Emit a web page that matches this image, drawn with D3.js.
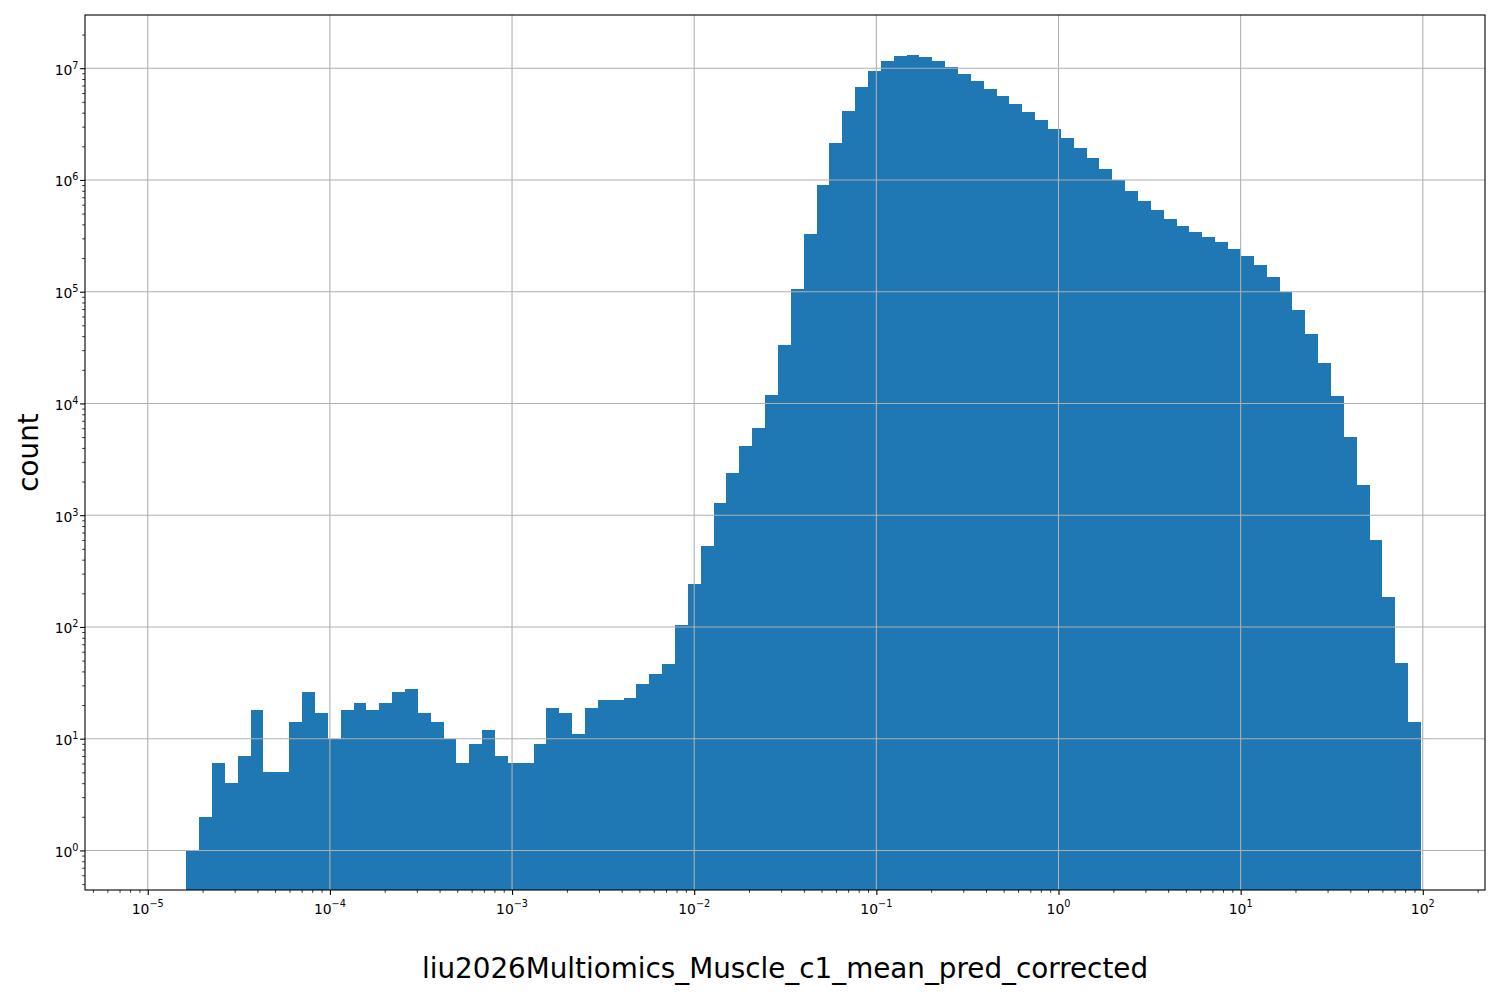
<!DOCTYPE html>
<html><head><meta charset="utf-8">
<script src="https://cdn.jsdelivr.net/npm/d3@7"></script>
<style>body{margin:0;background:#fff} svg{display:block}</style>
</head><body>
<svg id="chart" width="1500" height="1000"></svg>
<script>
// ---- data ----
const binLogStart = -5.0;   // log10 of first bin edge
const binLogEnd = 1.99;     // log10 of last bin edge
const binCount = 99;
const counts = [0, 0, 0,
  1, 2, 6, 4, 7, 18, 5, 5, 14, 26, 17, 10, 18, 21, 18, 21, 26, 28, 17, 14, 10, 6,
  9, 12, 7, 6, 6, 9, 19, 17, 11, 19, 22, 22, 23, 31, 38, 47, 104, 240, 530, 1290,
  2400, 4200, 6000, 12000, 33000, 105000, 330000, 900000, 2150000, 4150000, 6800000,
  9460000, 11600000, 12900000, 13150000, 12600000, 11600000, 10270000, 8900000,
  7700000, 6530000, 5650000, 4800000, 4060000, 3450000, 2860000, 2380000, 1940000,
  1580000, 1256000, 990000, 800000, 650000, 540000, 449000, 388000, 343000, 310000,
  279000, 242000, 209000, 174000, 136000, 99000, 68800, 42000, 23100, 11700, 5030,
  1870, 600, 186, 48, 14];
const xTickExps = [-5, -4, -3, -2, -1, 0, 1, 2];
const yTickExps = [0, 1, 2, 3, 4, 5, 6, 7];
const xLabel = "liu2026Multiomics_Muscle_c1_mean_pred_corrected";
const yLabel = "count";

// ---- layout ----
const W = 1500, H = 1000;
const m = {left: 85, right: 1485, top: 15, bottom: 890};
const FONT = "DejaVu Sans, sans-serif";
const barColor = "#1f77b4";

const svg = d3.select("#chart");

const edges = d3.range(binCount + 1).map(i => Math.pow(10, binLogStart + i * (binLogEnd - binLogStart) / binCount));
const bins = counts.map((c, i) => ({x0: edges[i], x1: edges[i + 1], c}));

const x = d3.scaleLog().domain([Math.pow(10, -5.3445), Math.pow(10, 2.3415)]).range([m.left, m.right]);
const y = d3.scaleLog().domain([Math.pow(10, -0.354), Math.pow(10, 7.476)]).range([m.bottom, m.top]);

svg.append("defs").append("clipPath").attr("id", "clip")
  .append("rect").attr("x", m.left).attr("y", m.top)
  .attr("width", m.right - m.left).attr("height", m.bottom - m.top);

// bars
svg.append("g").attr("clip-path", "url(#clip)")
  .selectAll("rect").data(bins.filter(b => b.c > 0)).join("rect")
  .attr("x", d => x(d.x0))
  .attr("width", d => x(d.x1) - x(d.x0))
  .attr("y", d => y(d.c))
  .attr("height", d => m.bottom - y(d.c))
  .attr("fill", barColor)
  .attr("shape-rendering", "crispEdges");

// grid (above bars, as in matplotlib)
const xMajor = xTickExps.map(e => Math.pow(10, e));
const yMajor = yTickExps.map(e => Math.pow(10, e));
const grid = svg.append("g").attr("stroke", "#b0b0b0").attr("stroke-width", 1.1);
grid.selectAll(".gx").data(xMajor).join("line")
  .attr("x1", d => x(d)).attr("x2", d => x(d)).attr("y1", m.top).attr("y2", m.bottom);
grid.selectAll(".gy").data(yMajor).join("line")
  .attr("y1", d => y(d)).attr("y2", d => y(d)).attr("x1", m.left).attr("x2", m.right);

// minor tick values
function minorTicks(scale) {
  const [a, b] = scale.domain();
  const out = [];
  for (let e = Math.floor(Math.log10(a)) - 1; e <= Math.ceil(Math.log10(b)); e++) {
    for (let k = 2; k <= 9; k++) {
      const v = k * Math.pow(10, e);
      if (v >= a && v <= b) out.push(v);
    }
  }
  return out;
}

// axes via d3
const gx = svg.append("g").attr("transform", `translate(0,${m.bottom})`);
gx.call(d3.axisBottom(x).tickValues(xMajor).tickSize(4.9).tickFormat(""));
const gxm = svg.append("g").attr("transform", `translate(0,${m.bottom})`);
gxm.call(d3.axisBottom(x).tickValues(minorTicks(x)).tickSize(2.8).tickFormat(""));
const gy = svg.append("g").attr("transform", `translate(${m.left},0)`);
gy.call(d3.axisLeft(y).tickValues(yMajor).tickSize(4.9).tickFormat(""));
const gym = svg.append("g").attr("transform", `translate(${m.left},0)`);
gym.call(d3.axisLeft(y).tickValues(minorTicks(y)).tickSize(2.8).tickFormat(""));
[gx, gxm, gy, gym].forEach(g => {
  g.select(".domain").remove();
  g.selectAll(".tick line").attr("stroke", "#000");
});
gx.selectAll(".tick line").attr("stroke-width", 1.1);
gy.selectAll(".tick line").attr("stroke-width", 1.1);
gxm.selectAll(".tick line").attr("stroke-width", 0.8);
gym.selectAll(".tick line").attr("stroke-width", 0.8);

// spines
svg.append("rect").attr("x", m.left).attr("y", m.top)
  .attr("width", m.right - m.left).attr("height", m.bottom - m.top)
  .attr("fill", "none").attr("stroke", "#000").attr("stroke-width", 1.1);

// tick labels with superscripts
function expText(e) { return (e < 0 ? "\u2212" : "") + Math.abs(e); }
const xl = svg.append("g").attr("font-family", FONT).attr("font-size", 13.9).attr("fill", "#000");
xTickExps.forEach(e => {
  const t = xl.append("text").attr("x", x(Math.pow(10, e))).attr("y", 914).attr("text-anchor", "middle");
  t.append("tspan").text("10");
  t.append("tspan").attr("font-size", 9.7).attr("dy", -7).text(expText(e));
});
const yl = svg.append("g").attr("font-family", FONT).attr("font-size", 13.9).attr("fill", "#000");
yTickExps.forEach(e => {
  const t = yl.append("text").attr("x", 78.5).attr("y", y(Math.pow(10, e)) + 6.5).attr("text-anchor", "end");
  t.append("tspan").text("10");
  t.append("tspan").attr("font-size", 9.7).attr("dy", -6).text(expText(e));
});

// axis labels
svg.append("text").attr("x", (m.left + m.right) / 2).attr("y", 978)
  .attr("text-anchor", "middle").attr("font-family", FONT).attr("font-size", 27.8)
  .text(xLabel);
svg.append("text").attr("transform", `translate(38,${(m.top + m.bottom) / 2}) rotate(-90)`)
  .attr("text-anchor", "middle").attr("font-family", FONT).attr("font-size", 27.8)
  .text(yLabel);
</script>
</body></html>
